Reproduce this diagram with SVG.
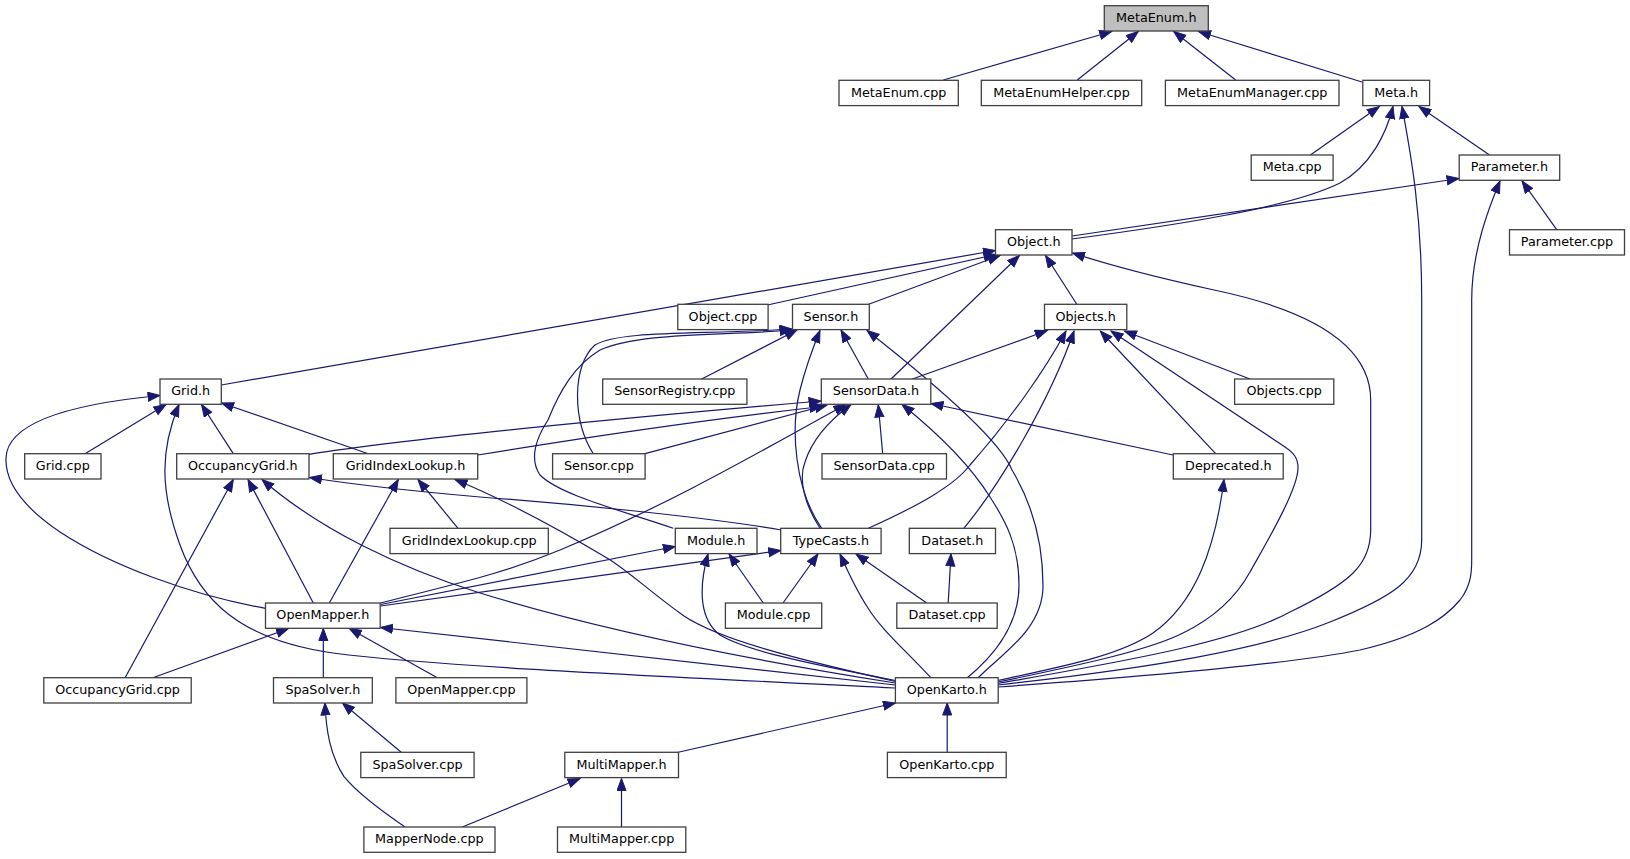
<svg xmlns="http://www.w3.org/2000/svg" width="1630" height="859" viewBox="0 0 1630 859">
<style>
.n rect{fill:#ffffff;stroke:#404040;stroke-width:1.3}
.n.root rect{fill:#bfbfbf}
.n text{font-family:"DejaVu Sans","Liberation Sans",sans-serif;font-size:12.75px;fill:#000;text-anchor:middle}
#edges path{fill:none;stroke:#191970;stroke-width:1.2;marker-end:url(#a)}
</style>
<defs>
<marker id="a" markerUnits="userSpaceOnUse" markerWidth="14" markerHeight="11" refX="12.5" refY="5" orient="auto">
<path d="M0.5,0.5 L12.5,5 L0.5,9.5 Z" fill="#191970" stroke="#191970" stroke-width="1"/>
</marker>
</defs>
<rect width="1630" height="859" fill="#ffffff"/>
<g id="edges">
<path d="M943.3,80 L1111.7,31.5"/>
<path d="M1077.3,80 L1138.3,31.5"/>
<path d="M1235.7,80 L1173.7,31.5"/>
<path d="M1362,82 L1198.5,31.5"/>
<path d="M1310.4,155 L1379.3,106.5"/>
<path d="M1072,239 C1170,226 1290,208 1340,183 C1370,166 1386,135 1393,106.5"/>
<path d="M998,685 C1150,668 1260,650 1330,622 C1390,598 1421.7,580 1421.7,540 L1421.7,300 C1421.7,210 1410,150 1402,106.5"/>
<path d="M1489.5,155 L1419,106.5"/>
<path d="M1072,236 L1459,178.5"/>
<path d="M1556.7,229.7 L1522,181"/>
<path d="M998,687 C1150,676 1300,662 1360,650 C1420,636 1445,618 1460,600 C1471.7,585 1471.7,570 1471.7,560 L1471.7,300 C1471.7,250 1490,205 1500,181"/>
<path d="M221.3,385 L995.5,250.5"/>
<path d="M767.5,305 L996,254.5"/>
<path d="M866.7,305 L1000,255.5"/>
<path d="M890.8,379.3 L1019.4,255.5"/>
<path d="M1076.8,304.3 L1045.5,255.5"/>
<path d="M998,683.5 C1100,665 1230,645 1290,612 C1350,583 1370.7,565 1370.7,530 L1370.7,400 C1370.7,340 1300,308 1214,290 C1150,276 1100,262 1072.5,253"/>
<path d="M701.7,379 L797,330"/>
<path d="M868.3,379 L841,330"/>
<path d="M593.3,453.7 C572,420 572,365 595,345 C620,330 700,335 792,329"/>
<path d="M673.3,528.3 C620,510 560,495 540,475 C530,460 535,440 548,420 C560,390 575,365 600,350 C640,332 720,336 792,330"/>
<path d="M821.7,528.3 C795,490 790,430 800,390 C805,370 812,350 820,330.5"/>
<path d="M978,678 C1000,655 1043,630 1043,586 C1043,540 1030,500 1012,470 C1000,440 930,380 867,330.5"/>
<path d="M911.7,379.3 L1047.3,330.5"/>
<path d="M1250,379 L1124.4,331"/>
<path d="M1215.7,453.7 L1100.3,331"/>
<path d="M868.3,528.3 C920,505 955,485 970,465 C1010,420 1045,370 1066,331"/>
<path d="M963.8,528.3 C1000,485 1050,400 1074,331"/>
<path d="M998,682 C1080,665 1150,650 1183,633 C1220,615 1240,590 1250,572 C1265,545 1298,490 1298,468 C1298,458 1294,453 1285,447 L1111,331"/>
<path d="M85,453.7 L166,404.5"/>
<path d="M233.3,453.7 L201.5,404.5"/>
<path d="M368.3,453.7 L221.5,403"/>
<path d="M265.5,608.3 C190,595 110,565 60,532 C20,505 5,480 6,458 C7,425 60,405 160,395.5"/>
<path d="M895.4,688 C700,678 450,668 333,653 C240,640 200,600 180,545 C160,490 160,450 179,404.5"/>
<path d="M309,454.3 C400,440 600,420 821,401"/>
<path d="M477.7,455 C600,435 720,418 822,406.5"/>
<path d="M645,453.7 L827,405"/>
<path d="M882.7,453.7 L878.3,405"/>
<path d="M1173,455 L931,403.5"/>
<path d="M820,528.3 C805,505 798,480 805,462 C812,440 830,420 851,404.5"/>
<path d="M380.5,603 C450,585 500,575 560,550 C680,500 780,440 846,404.5"/>
<path d="M967,678 C995,655 1019,625 1019,585 C1019,545 1005,520 990,497 C970,465 940,435 902,404.5"/>
<path d="M781.4,530 C700,516 560,503 480,497 C400,490 350,484 309.5,477.5"/>
<path d="M313.3,603 L248,479.5"/>
<path d="M125.1,677.7 L233.3,479.5"/>
<path d="M895.4,683 C750,660 600,630 480,593 C400,568 320,530 262,479.5"/>
<path d="M458,528.3 L418,479.5"/>
<path d="M329.3,603 L398.3,479.5"/>
<path d="M895.4,681.5 C800,660 720,640 684,616 C650,592 630,572 607,558 C560,530 500,498 455,479.5"/>
<path d="M998,680.5 C1070,665 1120,655 1153,633 C1195,603 1215,550 1224,479.5"/>
<path d="M763.3,603 L729,554"/>
<path d="M380.5,604.5 L675.3,546.5"/>
<path d="M895.4,680.5 C800,662 745,650 720,635 C700,620 698,590 708,554"/>
<path d="M783,603 L818,554"/>
<path d="M926.7,603 L856,554"/>
<path d="M380.5,606 L780.7,550.5"/>
<path d="M930.8,677.7 C905,650 880,628 868,608 C856,590 848,572 840,554"/>
<path d="M948.2,603 L951,554"/>
<path d="M152.9,677.7 L288.5,628.5"/>
<path d="M323.3,677.7 L323.3,628.5"/>
<path d="M437.3,677.7 L349.3,628.5"/>
<path d="M895.4,685 L380.5,627.5"/>
<path d="M677.1,752.5 L895.4,703"/>
<path d="M947.2,752.5 L947.2,703"/>
<path d="M401.5,752.5 L342.4,703"/>
<path d="M405,827 C380,810 355,790 344,776.7 C330,755 326,730 325,703"/>
<path d="M462.3,827 L580,778.5"/>
<path d="M621.5,827 L621.5,778.5"/>
</g>
<g id="n_MetaEnum_h" class="n root"><rect x="1104.3" y="5.7" width="104" height="25.3"/><text x="1156.3" y="22">MetaEnum.h</text></g>
<g id="n_MetaEnum_cpp" class="n"><rect x="839" y="80.3" width="119.3" height="25.3"/><text x="898.7" y="96.6">MetaEnum.cpp</text></g>
<g id="n_MetaEnumHelper_cpp" class="n"><rect x="981.3" y="80.3" width="160.4" height="25.3"/><text x="1061.5" y="96.6">MetaEnumHelper.cpp</text></g>
<g id="n_MetaEnumManager_cpp" class="n"><rect x="1165.4" y="80.3" width="173.6" height="25.3"/><text x="1252.2" y="96.6">MetaEnumManager.cpp</text></g>
<g id="n_Meta_h" class="n"><rect x="1362.8" y="80.3" width="66.8" height="25.3"/><text x="1396.2" y="96.6">Meta.h</text></g>
<g id="n_Meta_cpp" class="n"><rect x="1251.2" y="155" width="81.9" height="25.3"/><text x="1292.2" y="171.3">Meta.cpp</text></g>
<g id="n_Parameter_h" class="n"><rect x="1459.2" y="155" width="100.5" height="25.3"/><text x="1509.5" y="171.3">Parameter.h</text></g>
<g id="n_Object_h" class="n"><rect x="995.5" y="229.7" width="76.5" height="25.3"/><text x="1033.8" y="246">Object.h</text></g>
<g id="n_Parameter_cpp" class="n"><rect x="1509.5" y="229.7" width="115" height="25.3"/><text x="1567" y="246">Parameter.cpp</text></g>
<g id="n_Object_cpp" class="n"><rect x="677.8" y="304.3" width="90.3" height="25.3"/><text x="723" y="320.6">Object.cpp</text></g>
<g id="n_Sensor_h" class="n"><rect x="792.5" y="304.3" width="76.8" height="25.3"/><text x="830.9" y="320.6">Sensor.h</text></g>
<g id="n_Objects_h" class="n"><rect x="1044.5" y="304.3" width="82.3" height="25.3"/><text x="1085.6" y="320.6">Objects.h</text></g>
<g id="n_Grid_h" class="n"><rect x="160" y="379" width="61.3" height="25.3"/><text x="190.7" y="395.3">Grid.h</text></g>
<g id="n_SensorRegistry_cpp" class="n"><rect x="602.7" y="379" width="144.2" height="25.3"/><text x="674.8" y="395.3">SensorRegistry.cpp</text></g>
<g id="n_SensorData_h" class="n"><rect x="821.3" y="379" width="109.5" height="25.3"/><text x="876" y="395.3">SensorData.h</text></g>
<g id="n_Objects_cpp" class="n"><rect x="1234.6" y="379" width="99.2" height="25.3"/><text x="1284.2" y="395.3">Objects.cpp</text></g>
<g id="n_Grid_cpp" class="n"><rect x="24.7" y="453.7" width="76.3" height="25.3"/><text x="62.8" y="470">Grid.cpp</text></g>
<g id="n_OccupancyGrid_h" class="n"><rect x="176.7" y="453.7" width="132.3" height="25.3"/><text x="242.8" y="470">OccupancyGrid.h</text></g>
<g id="n_GridIndexLookup_h" class="n"><rect x="333.3" y="453.7" width="144.4" height="25.3"/><text x="405.5" y="470">GridIndexLookup.h</text></g>
<g id="n_Sensor_cpp" class="n"><rect x="552.6" y="453.7" width="92.5" height="25.3"/><text x="598.9" y="470">Sensor.cpp</text></g>
<g id="n_SensorData_cpp" class="n"><rect x="822" y="453.7" width="124.5" height="25.3"/><text x="884.2" y="470">SensorData.cpp</text></g>
<g id="n_Deprecated_h" class="n"><rect x="1173.3" y="453.7" width="109.9" height="25.3"/><text x="1228.3" y="470">Deprecated.h</text></g>
<g id="n_GridIndexLookup_cpp" class="n"><rect x="390" y="528.3" width="158.3" height="25.3"/><text x="469.2" y="544.6">GridIndexLookup.cpp</text></g>
<g id="n_Module_h" class="n"><rect x="675.3" y="528.3" width="81.7" height="25.3"/><text x="716.2" y="544.6">Module.h</text></g>
<g id="n_TypeCasts_h" class="n"><rect x="780.7" y="528.3" width="100.4" height="25.3"/><text x="830.9" y="544.6">TypeCasts.h</text></g>
<g id="n_Dataset_h" class="n"><rect x="909.3" y="528.3" width="86.2" height="25.3"/><text x="952.4" y="544.6">Dataset.h</text></g>
<g id="n_OpenMapper_h" class="n"><rect x="265.5" y="603" width="114.7" height="25.3"/><text x="322.9" y="619.3">OpenMapper.h</text></g>
<g id="n_Module_cpp" class="n"><rect x="725.4" y="603" width="96.3" height="25.3"/><text x="773.5" y="619.3">Module.cpp</text></g>
<g id="n_Dataset_cpp" class="n"><rect x="896.8" y="603" width="100.4" height="25.3"/><text x="947" y="619.3">Dataset.cpp</text></g>
<g id="n_OccupancyGrid_cpp" class="n"><rect x="43.8" y="677.7" width="147.4" height="25.3"/><text x="117.5" y="694">OccupancyGrid.cpp</text></g>
<g id="n_SpaSolver_h" class="n"><rect x="273.5" y="677.7" width="98.8" height="25.3"/><text x="322.9" y="694">SpaSolver.h</text></g>
<g id="n_OpenMapper_cpp" class="n"><rect x="395.9" y="677.7" width="131" height="25.3"/><text x="461.4" y="694">OpenMapper.cpp</text></g>
<g id="n_OpenKarto_h" class="n"><rect x="895.4" y="677.7" width="102.8" height="25.3"/><text x="946.8" y="694">OpenKarto.h</text></g>
<g id="n_SpaSolver_cpp" class="n"><rect x="360.8" y="752.3" width="113.3" height="25.3"/><text x="417.5" y="768.6">SpaSolver.cpp</text></g>
<g id="n_MultiMapper_h" class="n"><rect x="564.8" y="752.3" width="113.7" height="25.3"/><text x="621.6" y="768.6">MultiMapper.h</text></g>
<g id="n_OpenKarto_cpp" class="n"><rect x="887.4" y="752.3" width="118.8" height="25.3"/><text x="946.8" y="768.6">OpenKarto.cpp</text></g>
<g id="n_MapperNode_cpp" class="n"><rect x="363.9" y="827" width="131.1" height="25.3"/><text x="429.4" y="843.3">MapperNode.cpp</text></g>
<g id="n_MultiMapper_cpp" class="n"><rect x="557.5" y="827" width="128.3" height="25.3"/><text x="621.6" y="843.3">MultiMapper.cpp</text></g>
</svg>
